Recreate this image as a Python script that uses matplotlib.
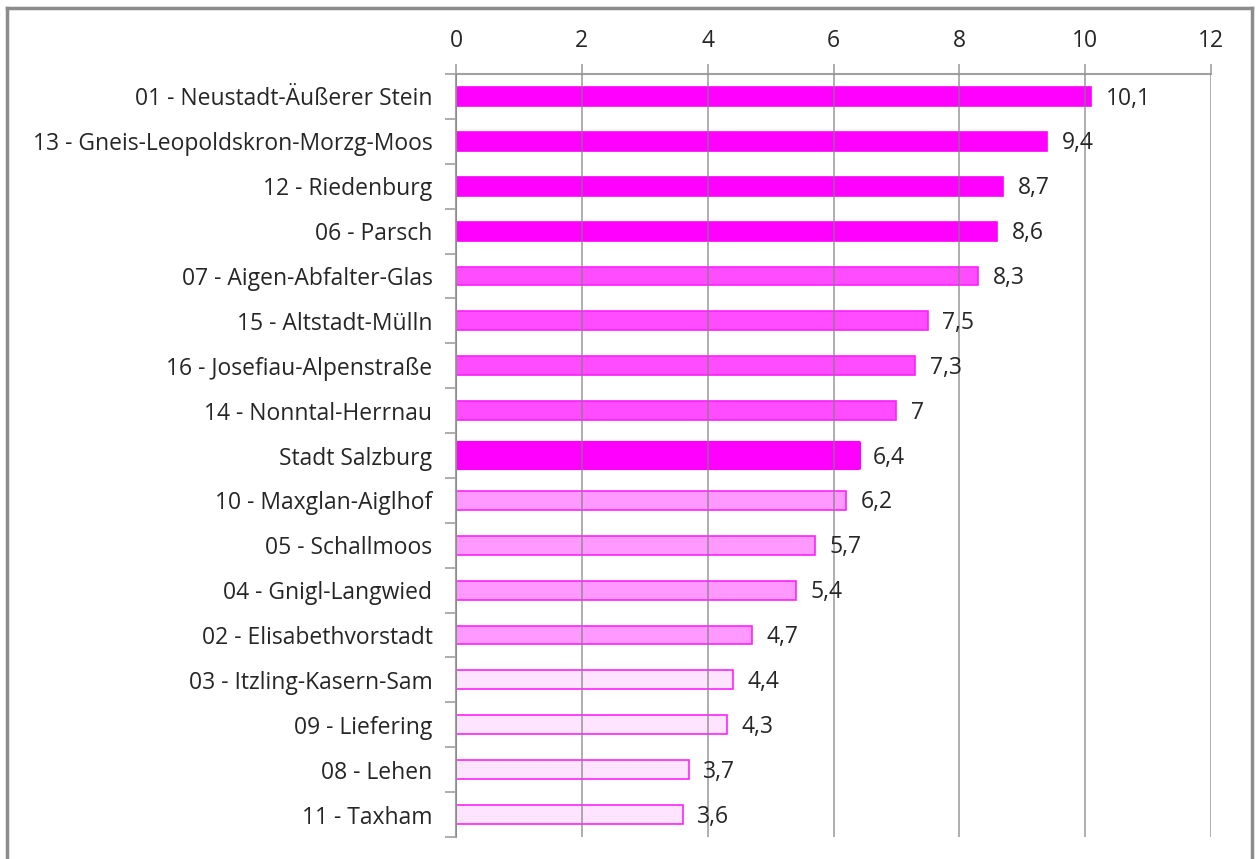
import matplotlib
matplotlib.use("Agg")
import matplotlib.pyplot as plt
from matplotlib.lines import Line2D

categories = [
    "01 - Neustadt-Äußerer Stein",
    "13 - Gneis-Leopoldskron-Morzg-Moos",
    "12 - Riedenburg",
    "06 - Parsch",
    "07 - Aigen-Abfalter-Glas",
    "15 - Altstadt-Mülln",
    "16 - Josefiau-Alpenstraße",
    "14 - Nonntal-Herrnau",
    "Stadt Salzburg",
    "10 - Maxglan-Aiglhof",
    "05 - Schallmoos",
    "04 - Gnigl-Langwied",
    "02 - Elisabethvorstadt",
    "03 - Itzling-Kasern-Sam",
    "09 - Liefering",
    "08 - Lehen",
    "11 - Taxham",
]
values = [10.1, 9.4, 8.7, 8.6, 8.3, 7.5, 7.3, 7.0, 6.4, 6.2, 5.7, 5.4, 4.7, 4.4, 4.3, 3.7, 3.6]
labels = ["10,1", "9,4", "8,7", "8,6", "8,3", "7,5", "7,3", "7", "6,4", "6,2", "5,7", "5,4", "4,7", "4,4", "4,3", "3,7", "3,6"]
groups = ["top"] * 4 + ["high"] * 4 + ["city"] + ["mid"] * 4 + ["low"] * 4
xticks = [0, 2, 4, 6, 8, 10, 12]

fills = {"top": "#FF00FF", "high": "#FF4CFF", "city": "#FF00FF", "mid": "#FF99FF", "low": "#FFE4FF"}
edges = {"top": "#FF00FF", "high": "#FF1EFF", "city": "#FF00FF", "mid": "#FF22FF", "low": "#FF22FF"}

plt.rcParams['font.family'] = ['Open Sans', 'DejaVu Sans']
FS = 16.5
TC = '#262626'

fig = plt.figure(figsize=(12.56, 8.59), dpi=100)
ax = fig.add_axes([456/1256, 1 - 837/859, (1211-456)/1256, (837-74)/859])

n = len(categories)
ypos = list(range(n))
for i, (v, g) in enumerate(zip(values, groups)):
    if g == "city":
        ax.barh(i, v, height=0.56, color=fills[g], edgecolor=edges[g], linewidth=3,
                joinstyle='round', zorder=2)
    else:
        ax.barh(i, v, height=0.42, color=fills[g], edgecolor=edges[g], linewidth=1.2, zorder=2)
    ax.annotate(labels[i], xy=(v, i), xytext=(10.5, -1.5), textcoords='offset points',
                va='center', ha='left', fontsize=FS, color=TC)

ax.set_ylim(n - 0.5, -0.5)
ax.set_xlim(0, 12)
ax.set_xticks(xticks)
ax.set_xticklabels([str(t) for t in xticks], fontsize=FS, color=TC)
ax.xaxis.tick_top()
ax.tick_params(axis='x', direction='out', length=7, color='#A0A0A0', width=1.2, pad=8)
ax.set_yticks([y - 0.5 for y in range(n + 1)])
ax.set_yticklabels([])
ax.set_yticks(ypos, minor=True)
ax.set_yticklabels(categories, minor=True, fontsize=FS, color=TC)
ax.tick_params(axis='y', which='major', direction='out', length=8, color='#A0A0A0', width=1.2)
ax.tick_params(axis='y', which='minor', length=0, pad=17)

ax.grid(axis='x', color='#808080', linewidth=1.1, alpha=0.8, zorder=3)
ax.set_axisbelow(False)
for s in ['right', 'bottom']:
    ax.spines[s].set_visible(False)
for s in ['left', 'top']:
    ax.spines[s].set_color('#A0A0A0')
    ax.spines[s].set_linewidth(1.5)

# outer frame
fc = '#8C8C8C'
fig.add_artist(Line2D([7/1256, 7/1256], [0, 1 - 8/859], transform=fig.transFigure, color=fc, lw=2.5))
fig.add_artist(Line2D([7/1256, 1252/1256], [1 - 8/859, 1 - 8/859], transform=fig.transFigure, color=fc, lw=2.5))
fig.add_artist(Line2D([1252/1256, 1252/1256], [0, 1 - 8/859], transform=fig.transFigure, color=fc, lw=2.5))

fig.savefig("out.png", dpi=100, facecolor='white')
